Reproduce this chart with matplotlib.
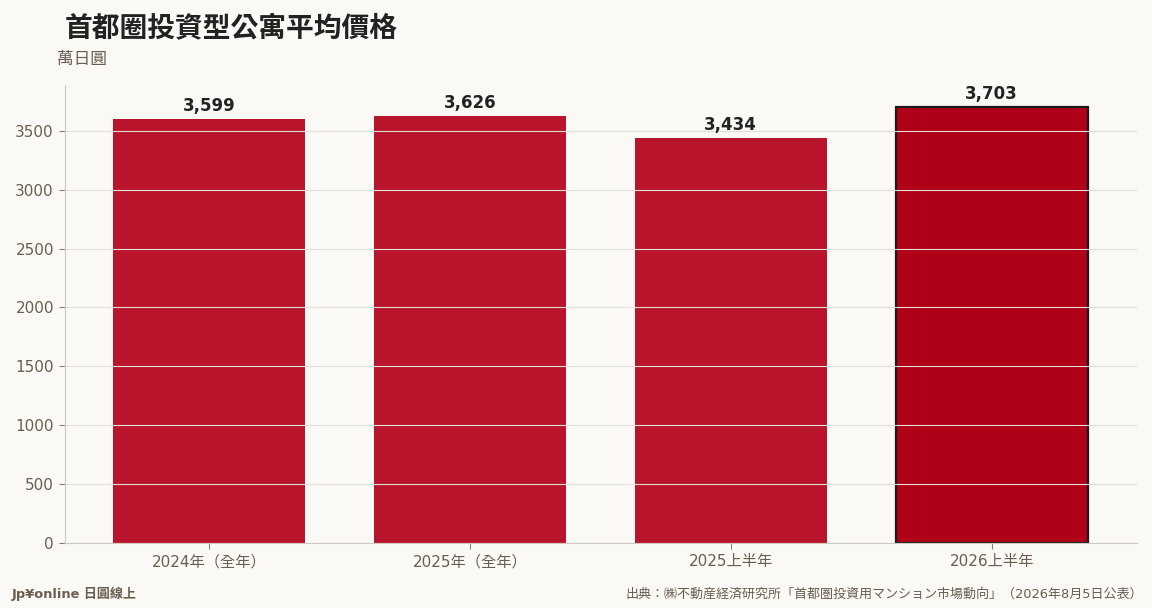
import matplotlib
matplotlib.use("Agg")
import matplotlib.pyplot as plt
from matplotlib.ticker import FixedLocator

plt.rcParams['font.family'] = ['DejaVu Sans', 'Noto Sans CJK TC']

categories = ["2024年（全年）", "2025年（全年）", "2025上半年", "2026上半年"]
values = [3599, 3626, 3434, 3703]
labels = ["3,599", "3,626", "3,434", "3,703"]
yticks = [0, 500, 1000, 1500, 2000, 2500, 3000, 3500]

bg = "#faf9f6"
fig = plt.figure(figsize=(11.52, 6.08), dpi=100, facecolor=bg)
ax = fig.add_axes([65/1152, 1-543/608, (1137-65)/1152, (543-85)/608])
ax.set_facecolor(bg)

colors = ["#b8152d", "#b8152d", "#b8152d", "#b00018"]
x = list(range(len(categories)))
bars = ax.bar(x, values, width=0.735, color=colors, zorder=2)
bars[3].set_edgecolor("#1a1a1a")
bars[3].set_linewidth(1.6)

for xi, v, lab in zip(x, values, labels):
    ax.annotate(lab, (xi, v), xytext=(0, 3), textcoords="offset points",
                ha="center", va="bottom", fontsize=12, fontweight="bold",
                color="#222222", zorder=5)

ax.set_xlim(-0.552, 3.557)
ax.set_ylim(0, 3888)
ax.yaxis.set_major_locator(FixedLocator(yticks))
ax.set_xticks(x)
ax.set_xticklabels(categories)
ax.grid(axis="y", color="#e3dfd7", linewidth=0.8, zorder=3)
ax.set_axisbelow(False)
for s in ["top", "right"]:
    ax.spines[s].set_visible(False)
for s in ["left", "bottom"]:
    ax.spines[s].set_color("#cfc8bd")
    ax.spines[s].set_zorder(4)
ax.tick_params(axis="both", labelsize=11, length=4, color="#8a8070", pad=4)
for t in ax.get_xticklabels() + ax.get_yticklabels():
    t.set_color("#6b5e4e")

fig.text(65/1152, 1-28/608, "首都圈投資型公寓平均價格", fontsize=20, fontweight="bold",
         color="#222222", ha="left", va="center")
fig.text(57/1152, 1-59/608, "萬日圓", fontsize=12, color="#6b5e4e", ha="left", va="center")
fig.text(12/1152, 1-594/608, "Jp¥online 日圓線上", fontsize=9.4, fontweight="bold",
         color="#6b5e4e", ha="left", va="center")
fig.text(1143/1152, 1-594/608, "出典：㈱不動産経済研究所「首都圏投資用マンション市場動向」（2026年8月5日公表）",
         fontsize=9.4, color="#6b5e4e", ha="right", va="center",
         family=["DejaVu Sans", "Noto Sans CJK JP"])

fig.savefig("out.png", dpi=100, facecolor=bg)
